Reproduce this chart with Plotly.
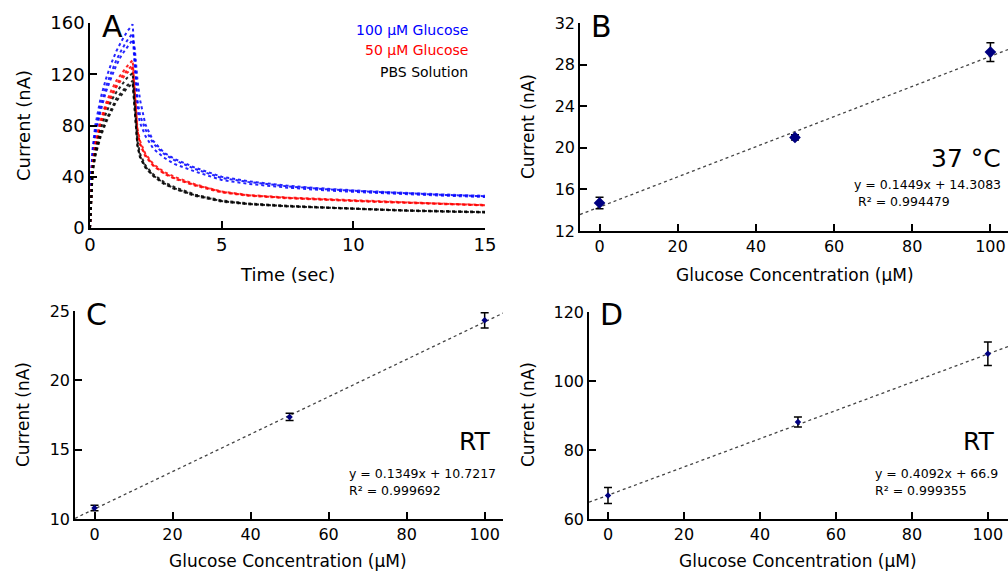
import plotly.graph_objects as go

W, H = 1008, 573
FONT = "DejaVu Sans"

# ---------------- Panel A data ----------------
time_s = [0, 0.05, 0.1, 0.2, 0.4, 0.6, 0.8, 1.0, 1.2, 1.4, 1.62, 1.7, 1.8, 1.9,
          2.1, 2.4, 2.8, 3.2, 4.0, 5.0, 6.0, 7.5, 9.0, 10.5, 12.0, 13.5, 15.0]

blue_rep1 = [0, 45, 62, 80, 101, 116, 128, 138, 146, 153, 159, 130, 100, 88,
             77, 66, 58, 53, 46, 39, 36, 32.5, 30.2, 28.5, 27, 25.8, 24.8]
blue_rep2 = [0, 42, 58, 75, 95, 110, 121, 131, 139, 146, 152, 124, 92, 82,
             72, 62, 55, 50, 44, 37.5, 34.5, 31.5, 29.3, 27.7, 26.3, 25.2, 24.2]
blue_rep3 = [0, 40, 55, 72, 91, 106, 117, 127, 135, 141, 147, 140, 116, 100,
             81, 68, 59, 54, 47, 40, 36.5, 33, 30.6, 28.8, 27.3, 26.1, 25.1]

red_rep1 = [0, 35, 50, 66, 84, 97, 107, 115, 121, 126, 131, 105, 78, 68,
            58, 50, 44, 40, 34, 28.5, 25.8, 23.8, 22.4, 21.2, 20.1, 19, 18]
red_rep2 = [0, 33, 48, 64, 82, 95, 104, 112, 118, 123, 127, 102, 76, 66,
            57, 49, 43, 39, 33.5, 28.2, 25.5, 23.5, 22.1, 20.9, 19.9, 18.8, 17.8]
red_rep3 = [0, 32, 47, 62, 80, 93, 102, 110, 116, 121, 125, 100, 75, 65,
            56, 48.5, 42.5, 38.5, 33, 27.8, 25.2, 23.2, 21.8, 20.6, 19.6, 18.6, 17.6]

black_rep1 = [0, 30, 44, 57, 73, 84, 93, 101, 106, 111, 115, 93, 65, 56,
              48, 41, 35, 31, 25.5, 21, 18.8, 17, 15.7, 14.6, 13.6, 12.9, 12.3]
black_rep2 = [0, 32, 47, 61, 77, 89, 99, 106, 112, 117, 121, 97, 68, 58,
              49, 42, 36, 32, 26, 21.5, 19.2, 17.4, 16, 14.9, 13.9, 13.2, 12.6]
black_rep3 = [0, 29, 43, 56, 71, 82, 91, 99, 104, 109, 113, 91, 64, 55,
              47, 40.5, 34.5, 30.5, 25, 20.6, 18.5, 16.8, 15.5, 14.4, 13.4, 12.7, 12.1]

legend_labels = ["100 μM Glucose", "50 μM Glucose", "PBS Solution"]

# ---------------- Panels B, C, D data ----------------
conc_uM = [0, 50, 100]

B_current = [14.7, 21.0, 29.2]
B_err = [0.55, 0.25, 0.9]
B_slope, B_intercept = 0.1449, 14.3083

C_current = [10.8, 17.36, 24.33]
C_err = [0.2, 0.26, 0.55]
C_slope, C_intercept = 0.1349, 10.7217

D_current = [66.8, 88.1, 107.9]
D_err = [2.3, 1.45, 3.4]
D_slope, D_intercept = 0.4092, 66.9

fig = go.Figure()


def px_x(p):
    return p / W


def px_y(p):
    return 1 - p / H


# Panel A traces
for reps, col in [((blue_rep1, blue_rep2, blue_rep3), "#0000FF"),
                  ((red_rep1, red_rep2, red_rep3), "#FF0000"),
                  ((black_rep1, black_rep2, black_rep3), "#000000")]:
    for r in reps:
        fig.add_trace(go.Scatter(x=time_s, y=r, mode="lines", xaxis="x", yaxis="y",
                                 line=dict(color=col, width=2, dash="dot"),
                                 opacity=0.85, showlegend=False, hoverinfo="skip"))

# Panels B, C, D
panels = [
    ("x2", "y2", B_current, B_err, B_slope, B_intercept, [-5, 104.5], 9),
    ("x3", "y3", C_current, C_err, C_slope, C_intercept, [-5, 104.7], 5),
    ("x4", "y4", D_current, D_err, D_slope, D_intercept, [-5, 105.3], 5),
]
for xa, ya, cur, err, m, b, xr, msize in panels:
    fx = [xr[0], xr[1]]
    fy = [m * v + b for v in fx]
    fig.add_trace(go.Scatter(x=fx, y=fy, mode="lines", xaxis=xa, yaxis=ya,
                             line=dict(color="#444444", width=1.3, dash="dot"),
                             showlegend=False, hoverinfo="skip", cliponaxis=True))
    fig.add_trace(go.Scatter(x=conc_uM, y=cur, mode="markers", xaxis=xa, yaxis=ya,
                             marker=dict(symbol="diamond", size=msize, color="#000080"),
                             error_y=dict(type="data", array=err, visible=True,
                                          color="black", thickness=1.5, width=4),
                             showlegend=False, hoverinfo="skip", cliponaxis=False))

axis_common = dict(showline=True, linecolor="black", linewidth=1.5, ticks="inside",
                   ticklen=7, tickwidth=1.5, tickcolor="black", showgrid=False,
                   zeroline=False, mirror=False, color="black", automargin=False)

fig.update_layout(
    template="none",
    width=W, height=H, margin=dict(l=0, r=0, t=0, b=0, pad=0, autoexpand=False),
    paper_bgcolor="white", plot_bgcolor="white",
    font=dict(family=FONT, color="black"),
    xaxis=dict(domain=[px_x(90), px_x(485)], range=[0, 15], tickvals=[0, 5, 10, 15],
               anchor="y", tickfont=dict(size=18), **axis_common),
    yaxis=dict(domain=[px_y(228), px_y(23)], range=[0, 160], tickvals=[0, 40, 80, 120, 160],
               anchor="x", tickfont=dict(size=18), **axis_common),
    xaxis2=dict(domain=[px_x(580), px_x(1008)], range=[-5, 104.5], tickvals=[0, 20, 40, 60, 80, 100],
                anchor="y2", tickfont=dict(size=16), **axis_common),
    yaxis2=dict(domain=[px_y(231), px_y(23)], range=[12, 32], tickvals=[12, 16, 20, 24, 28, 32],
                anchor="x2", tickfont=dict(size=16), **axis_common),
    xaxis3=dict(domain=[px_x(75), px_x(503)], range=[-5, 104.7], tickvals=[0, 20, 40, 60, 80, 100],
                anchor="y3", tickfont=dict(size=16), **axis_common),
    yaxis3=dict(domain=[px_y(519), px_y(311)], range=[10, 25], tickvals=[10, 15, 20, 25],
                anchor="x3", tickfont=dict(size=16), **axis_common),
    xaxis4=dict(domain=[px_x(589), px_x(1008)], range=[-5, 105.3], tickvals=[0, 20, 40, 60, 80, 100],
                anchor="y4", tickfont=dict(size=16), **axis_common),
    yaxis4=dict(domain=[px_y(519), px_y(312)], range=[60, 120], tickvals=[60, 80, 100, 120],
                anchor="x4", tickfont=dict(size=16), **axis_common),
)

ann = []


def add_text(text, x, y, size, xanchor="center", color="black", angle=0):
    ann.append(dict(text=text, x=px_x(x), y=px_y(y), xref="paper", yref="paper",
                    xanchor=xanchor, yanchor="middle", showarrow=False, textangle=angle,
                    font=dict(size=size, color=color, family=FONT)))


# panel letters
add_text("A", 112, 26, 30)
add_text("B", 601, 26, 30)
add_text("C", 96, 314, 30)
add_text("D", 611, 314, 30)

# legend texts of panel A
add_text(legend_labels[0], 470, 30, 14, xanchor="right", color="#0000FF")
add_text(legend_labels[1], 470, 50, 14, xanchor="right", color="#FF0000")
add_text(legend_labels[2], 470, 72, 14, xanchor="right", color="black")

# axis titles
add_text("Time (sec)", 287, 274, 18)
add_text("Current (nA)", 23, 126, 18, angle=-90)
add_text("Glucose Concentration (μM)", 795, 275, 17)
add_text("Current (nA)", 528, 127, 17, angle=-90)
add_text("Glucose Concentration (μM)", 288, 561, 17)
add_text("Current (nA)", 23, 415, 17, angle=-90)
add_text("Glucose Concentration (μM)", 798, 561, 17)
add_text("Current (nA)", 528, 415, 17, angle=-90)

# equations
EQ = 12.5
add_text("37 °C", 1003, 158, 25, xanchor="right")
add_text(f"y = {B_slope}x + {B_intercept}", 1003, 184, EQ, xanchor="right")
add_text("R² = 0.994479", 856, 202, EQ, xanchor="left")
add_text("RT", 493, 441, 25, xanchor="right")
add_text(f"y = {C_slope}x + {C_intercept}", 347, 473, EQ, xanchor="left")
add_text("R² = 0.999692", 347, 490, EQ, xanchor="left")
add_text("RT", 997, 441, 25, xanchor="right")
add_text(f"y = {D_slope}x + {D_intercept}", 873, 473, EQ, xanchor="left")
add_text("R² = 0.999355", 873, 490, EQ, xanchor="left")

fig.update_layout(annotations=ann)
fig.write_html(
    "out.html",
    config={"displayModeBar": False},
    post_script="document.body.style.margin='0px';"
                "document.body.style.padding='0px';"
                "document.documentElement.style.overflow='hidden';"
                "document.body.style.overflow='hidden';",
)
